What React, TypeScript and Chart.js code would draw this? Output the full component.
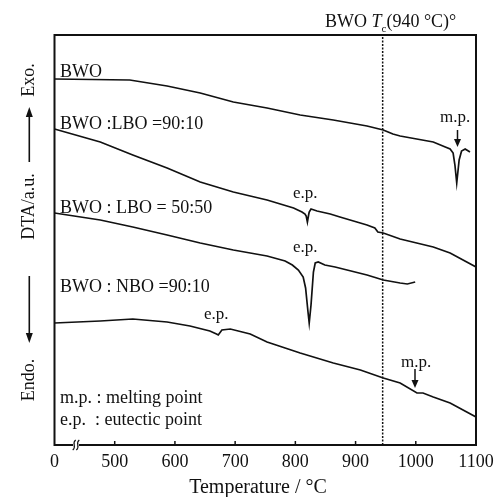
import { useEffect, useRef } from "react";
import { Chart, registerables } from "chart.js";

Chart.register(...registerables);

// ---- axis ----
const xTicks = [400, 500, 600, 700, 800, 900, 1000, 1100];
const xTickLabels = ["0", "500", "600", "700", "800", "900", "1000", "1100"];
const xMin = 400;
const xMax = 1100;
const yMin = 0;
const yMax = 410;
const tcLineT = 945;

// ---- series (temperature °C, DTA a.u.) ----
const bwoT = [400, 525, 587, 642, 697, 753, 808, 863, 919, 946, 954, 962, 974, 1029, 1049, 1057, 1062, 1065, 1068, 1072, 1076, 1082, 1090];
const bwoY = [366, 365, 359, 352, 343, 337, 330, 325, 319, 315, 313, 311, 309, 303, 298, 296, 292, 280, 262, 285, 294, 296, 293];

const lbo9010T = [400, 476, 530, 587, 642, 697, 753, 797, 811, 816, 818, 820, 822, 823, 826, 836, 858, 874, 919, 932, 937, 946, 974, 1029, 1057, 1100];
const lbo9010Y = [316, 303, 290, 277, 263, 253, 245, 237, 233, 231, 229, 223, 230, 233, 236, 234, 231, 228, 220, 217, 213, 212, 206, 198, 192, 178];

const lbo5050T = [400, 476, 530, 587, 642, 697, 753, 783, 795, 805, 813, 817, 821, 823, 826, 830, 833, 838, 849, 866, 919, 946, 974, 986, 999];
const lbo5050Y = [232, 225, 218, 210, 202, 195, 189, 184, 180, 175, 168, 157, 133, 122, 140, 173, 182, 183, 180, 178, 170, 165, 162, 161, 163];

const nboT = [400, 476, 530, 587, 625, 658, 669, 672, 678, 692, 725, 753, 808, 863, 908, 946, 974, 1002, 1012, 1029, 1057, 1100];
const nboY = [122, 124, 126, 123, 119, 114, 111, 110, 115, 116, 111, 103, 92, 82, 75, 67, 62, 52, 52, 48, 42, 28];

const seriesNames = ["BWO", "BWO :LBO =90:10", "BWO : LBO = 50:50", "BWO : NBO =90:10"];
const noteLines = ["m.p. : melting point", "e.p.  : eutectic point"];

const SERIF = "'Liberation Serif', 'Times New Roman', serif";
const INK = "#111";

function toPts(t: number[], y: number[]) {
  return t.map((v, i) => ({ x: v, y: y[i] }));
}

function drawArrow(ctx: CanvasRenderingContext2D, x: number, y1: number, y2: number, hw: number, hl: number) {
  const dir = Math.sign(y2 - y1);
  ctx.beginPath();
  ctx.moveTo(x, y1);
  ctx.lineTo(x, y2 - dir * (hl - 1));
  ctx.stroke();
  ctx.beginPath();
  ctx.moveTo(x, y2);
  ctx.lineTo(x - hw, y2 - dir * hl);
  ctx.lineTo(x + hw, y2 - dir * hl);
  ctx.closePath();
  ctx.fill();
}

const overlay = {
  id: "overlay",
  afterDatasetsDraw(chart: any) {
    const ctx: CanvasRenderingContext2D = chart.ctx;
    const { left, right, top, bottom } = chart.chartArea;
    const xs = chart.scales.x;
    ctx.save();
    ctx.strokeStyle = INK;
    ctx.fillStyle = INK;

    // frame
    ctx.lineWidth = 2;
    ctx.strokeRect(left, top, right - left, bottom - top);

    // inward tick marks
    ctx.lineWidth = 1.5;
    xTicks.forEach((v) => {
      if (v === xMin || v === xMax) return;
      const px = xs.getPixelForValue(v);
      ctx.beginPath();
      ctx.moveTo(px, bottom);
      ctx.lineTo(px, bottom - 4);
      ctx.stroke();
    });

    // axis break
    const bx = left + 21.5;
    ctx.fillStyle = "#fff";
    ctx.fillRect(bx - 3, bottom - 2, 6, 4);
    ctx.fillStyle = INK;
    ctx.lineWidth = 1.2;
    [-1.8, 1.8].forEach((o) => {
      ctx.beginPath();
      ctx.moveTo(bx + o - 1.5, bottom + 5);
      ctx.bezierCurveTo(bx + o + 3, bottom + 2, bx + o - 3, bottom - 2, bx + o + 1.5, bottom - 5);
      ctx.stroke();
    });

    // series labels and notes
    ctx.font = `18px ${SERIF}`;
    ctx.textAlign = "left";
    ctx.textBaseline = "alphabetic";
    const labelY = [77, 128.5, 212.5, 292];
    seriesNames.forEach((s, i) => ctx.fillText(s, 60, labelY[i]));
    ctx.fillText(noteLines[0], 60, 403);
    ctx.fillText(noteLines[1], 60, 424.5);

    ctx.font = `17px ${SERIF}`;
    ctx.fillText("e.p.", 293, 198);
    ctx.fillText("e.p.", 293, 251.5);
    ctx.fillText("e.p.", 204, 319);
    ctx.fillText("m.p.", 440, 121.5);
    ctx.fillText("m.p.", 401, 366.5);

    ctx.lineWidth = 1.5;
    drawArrow(ctx, 457.5, 130, 147, 3.5, 8);
    drawArrow(ctx, 415, 369, 388, 3.5, 8);

    // title at top right
    let tx = 325;
    const ty = 27;
    ctx.font = `18px ${SERIF}`;
    ctx.fillText("BWO ", tx, ty);
    tx += ctx.measureText("BWO ").width;
    ctx.font = `italic 18px ${SERIF}`;
    ctx.fillText("T", tx, ty);
    tx += ctx.measureText("T").width;
    ctx.font = `11px ${SERIF}`;
    ctx.fillText("c", tx, ty + 5);
    tx += ctx.measureText("c").width;
    ctx.font = `18px ${SERIF}`;
    ctx.fillText("(940 °C)°", tx, ty);

    // x axis title
    ctx.font = `20px ${SERIF}`;
    ctx.textAlign = "center";
    ctx.fillText("Temperature / °C", 258, 493);

    // y axis labels (rotated)
    ctx.font = `18px ${SERIF}`;
    ctx.textBaseline = "middle";
    const yLabels: [string, number][] = [["Exo.", 80], ["DTA/a.u.", 206.5], ["Endo.", 380]];
    yLabels.forEach(([t, cy]) => {
      ctx.save();
      ctx.translate(29, cy);
      ctx.rotate(-Math.PI / 2);
      ctx.fillText(t, 0, 0);
      ctx.restore();
    });
    ctx.lineWidth = 1.6;
    drawArrow(ctx, 29.3, 162, 107, 3.5, 10);
    drawArrow(ctx, 29.3, 276, 343, 3.5, 10);

    ctx.restore();
  },
};

export default function App() {
  const ref = useRef<HTMLCanvasElement | null>(null);
  useEffect(() => {
    if (!ref.current) return;
    const line = (data: { x: number; y: number }[], extra: any = {}) => ({
      data,
      borderColor: INK,
      borderWidth: 1.7,
      pointRadius: 0,
      fill: false,
      tension: 0,
      ...extra,
    });
    const chart = new Chart(ref.current, {
      type: "line",
      data: {
        datasets: [
          line(toPts(bwoT, bwoY), { label: seriesNames[0] }),
          line(toPts(lbo9010T, lbo9010Y), { label: seriesNames[1] }),
          line(toPts(lbo5050T, lbo5050Y), { label: seriesNames[2] }),
          line(toPts(nboT, nboY), { label: seriesNames[3] }),
          line([{ x: tcLineT, y: yMin }, { x: tcLineT, y: yMax }], {
            label: "Tc",
            borderWidth: 1.5,
            borderDash: [2, 1.5],
          }),
        ],
      },
      options: {
        animation: false,
        responsive: false,
        layout: { padding: { left: 54.5, right: 28, top: 35, bottom: 0 } },
        plugins: { legend: { display: false }, tooltip: { enabled: false }, title: { display: false } },
        scales: {
          x: {
            type: "linear",
            min: xMin,
            max: xMax,
            grid: { display: false, drawTicks: false },
            border: { display: false },
            afterBuildTicks: (scale: any) => {
              scale.ticks = xTicks.map((v) => ({ value: v }));
            },
            afterFit: (scale: any) => {
              scale.height = 52;
            },
            ticks: {
              autoSkip: false,
              maxRotation: 0,
              padding: 6,
              color: INK,
              font: { family: SERIF, size: 18 },
              callback: (v: any) => {
                const i = xTicks.indexOf(Number(v));
                return i >= 0 ? xTickLabels[i] : "";
              },
            },
          },
          y: {
            type: "linear",
            display: false,
            min: yMin,
            max: yMax,
          },
        },
      },
      plugins: [overlay],
    });
    return () => chart.destroy();
  }, []);
  return (
    <div style={{ position: "fixed", left: 0, top: 0, width: 504, height: 497, background: "#fff" }}>
      <canvas ref={ref} width={504} height={497} style={{ display: "block" }} />
    </div>
  );
}
